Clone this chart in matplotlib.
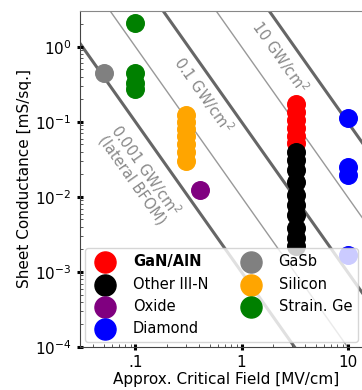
import numpy as np
import matplotlib
matplotlib.use("Agg")
import matplotlib.pyplot as plt
from matplotlib.ticker import FixedLocator, FixedFormatter, LogLocator

# critical field [MV/cm] and sheet conductance [mS/sq.] per material
gan_E = [3.3] * 6
gan_s = [0.174, 0.136, 0.106, 0.083, 0.065, 0.052]
iiin_E = [3.3] * 10
iiin_s = [0.040, 0.031, 0.023, 0.016, 0.0106, 0.0078, 0.0058, 0.0039, 0.0028, 0.0022]
oxide_E = [0.41]
oxide_s = [0.0124]
diamond_E = [10, 10, 10, 10]
diamond_s = [0.113, 0.025, 0.0197, 0.0017]
gasb_E = [0.05]
gasb_s = [0.45]
si_E = [0.3] * 7
si_s = [0.124, 0.10, 0.08, 0.065, 0.05, 0.04, 0.03]
ge_E = [0.1] * 4
ge_s = [2.09, 0.45, 0.33, 0.27]

# lateral BFOM lines (GW/cm^2)
power_lines = [0.001, 0.01, 0.1, 1, 10]
thick_lines = [0.001, 0.1, 10]

plt.rcParams['font.family'] = ['DejaVu Sans']
fig = plt.figure(figsize=(3.62, 3.90), dpi=100)
ax = fig.add_axes([80 / 362, 43 / 390, 292 / 362, 336 / 390])
ax.set_xscale('log')
ax.set_yscale('log')
ax.set_xlim(0.03, 17)
ax.set_ylim(1e-4, 3)

E = np.logspace(-2, 2, 200)
for p in power_lines:
    if p in thick_lines:
        ax.plot(E, p / E**2, color='#666666', lw=2.2, zorder=1)
    else:
        ax.plot(E, p / E**2, color='#999999', lw=1.0, zorder=1)

ms = 160
ax.scatter(gan_E, gan_s, s=ms, color='red', label='GaN/AlN', zorder=3)
ax.scatter(iiin_E, iiin_s, s=ms, color='black', label='Other III-N', zorder=3)
ax.scatter(oxide_E, oxide_s, s=ms, color='purple', label='Oxide', zorder=3)
ax.scatter(diamond_E, diamond_s, s=ms, color='blue', label='Diamond', zorder=3)
ax.scatter(gasb_E, gasb_s, s=ms, color='gray', label='GaSb', zorder=3)
ax.scatter(si_E, si_s, s=ms, color='orange', label='Silicon', zorder=3)
ax.scatter(ge_E, ge_s, s=ms, color='green', label='Strain. Ge', zorder=3)

ax.xaxis.set_major_locator(FixedLocator([0.1, 1, 10]))
ax.xaxis.set_major_formatter(FixedFormatter(['.1', '1', '10']))
ax.yaxis.set_major_locator(LogLocator(base=10, numticks=10))
ax.tick_params(which='major', direction='inout', length=5, width=2.2, color='black', labelsize=11)
ax.tick_params(which='minor', direction='in', length=2.5, width=0.7, color='#555555')
for side in ['left', 'bottom']:
    ax.spines[side].set_color('#444444')
    ax.spines[side].set_linewidth(0.8)
ax.spines['top'].set_color('#888888')
ax.spines['right'].set_visible(False)

ax.set_xlabel('Approx. Critical Field [MV/cm]', fontsize=11, labelpad=1)
ax.set_ylabel('Sheet Conductance [mS/sq.]', fontsize=11, labelpad=2)

# rotate labels along the lines
def line_angle(p, e1, e2):
    a = ax.transData.transform((e1, p / e1**2))
    b = ax.transData.transform((e2, p / e2**2))
    return np.degrees(np.arctan2(b[1] - a[1], b[0] - a[0]))

ang = line_angle(1, 1, 2)
ax.text(0.111, 0.0197, '0.001 GW/cm$^2$\n(lateral BFOM)', rotation=ang, rotation_mode='anchor',
        ha='center', va='center', color='#888888', fontsize=10.5, linespacing=1.0)
ax.text(0.44, 0.23, '0.1 GW/cm$^2$', rotation=ang, rotation_mode='anchor',
        ha='center', va='center', color='#888888', fontsize=10.5)
ax.text(2.33, 0.74, '10 GW/cm$^2$', rotation=ang, rotation_mode='anchor',
        ha='center', va='center', color='#888888', fontsize=10.5)

leg = ax.legend(loc='lower left', bbox_to_anchor=(0.017, 0.015), borderaxespad=0, ncol=2,
                fontsize=10.5, markerscale=1.2, handletextpad=0.9, columnspacing=1.9,
                labelspacing=0.5, framealpha=0.8, edgecolor='#cccccc', fancybox=True)
leg.get_texts()[0].set_fontweight('bold')
leg.set_zorder(5)

fig.savefig('out.png', dpi=100)
